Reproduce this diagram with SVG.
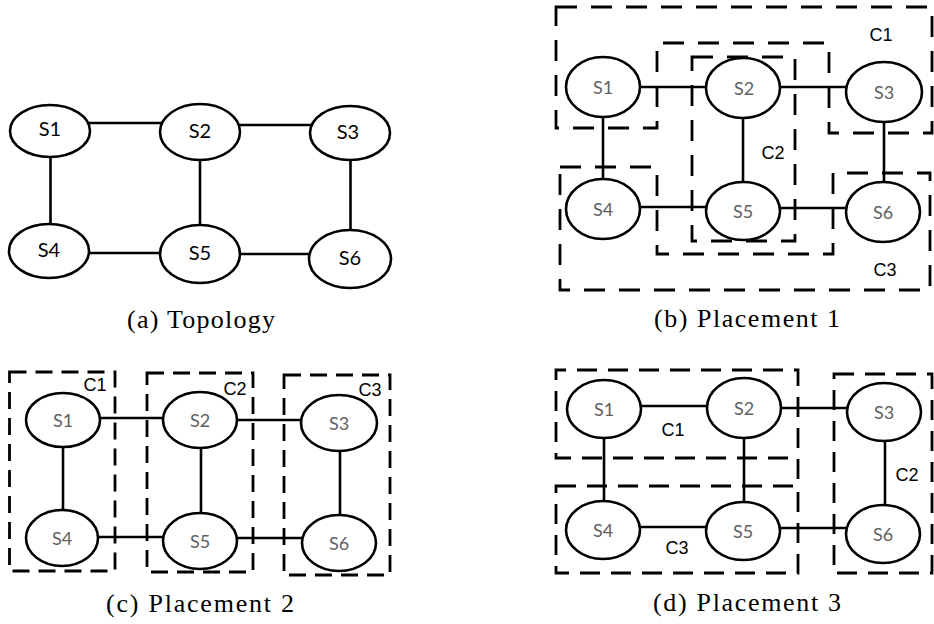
<svg xmlns="http://www.w3.org/2000/svg" width="934" height="624" viewBox="0 0 934 624">
  <style>
    .node ellipse { fill: #fff; stroke: #000; stroke-width: 2.6; }
    .edge { stroke: #000; stroke-width: 2.6; fill: none; }
    .lbl { font-family: Lato, "Open Sans", sans-serif; text-anchor: middle; }
    .lbl-a { font-size: 20px; fill: #000; }
    .lbl-g { font-size: 18px; fill: #606060; }
    .cl { fill: none; stroke: #000; stroke-width: 2.8; }
    .cl-b { stroke-dasharray: 21 14; }
    .cl-c { stroke-dasharray: 17 9; }
    .cl-d { stroke-dasharray: 20 11; }
    .cname { font-family: "Liberation Sans", Arial, sans-serif; font-size: 18px; fill: #000; text-anchor: middle; }
    .cap { font-family: "Liberation Serif", "Times New Roman", serif; font-size: 26px; fill: #000; text-anchor: middle; }
  </style>

  <!-- (a) Topology -->
  <g id="panel-a">
    <g id="a-edges">
      <line class="edge" x1="50" y1="123" x2="200" y2="123"/>
      <line class="edge" x1="200" y1="125" x2="350" y2="125"/>
      <line class="edge" x1="50.5" y1="131" x2="50.5" y2="251"/>
      <line class="edge" x1="200" y1="132" x2="200" y2="254"/>
      <line class="edge" x1="350.5" y1="133" x2="350.5" y2="259"/>
      <line class="edge" x1="49" y1="253" x2="200" y2="253"/>
      <line class="edge" x1="200" y1="254" x2="350" y2="254"/>
    </g>
    <g id="a-S1" class="node"><ellipse cx="50" cy="131" rx="40" ry="26"/><text class="lbl lbl-a" x="50" y="136">S1</text></g>
    <g id="a-S2" class="node"><ellipse cx="200" cy="132" rx="40" ry="28"/><text class="lbl lbl-a" x="200" y="138">S2</text></g>
    <g id="a-S3" class="node"><ellipse cx="350" cy="133" rx="40" ry="27"/><text class="lbl lbl-a" x="348" y="139">S3</text></g>
    <g id="a-S4" class="node"><ellipse cx="49" cy="251" rx="40" ry="27"/><text class="lbl lbl-a" x="49" y="257">S4</text></g>
    <g id="a-S5" class="node"><ellipse cx="200" cy="254" rx="40" ry="29"/><text class="lbl lbl-a" x="200" y="260">S5</text></g>
    <g id="a-S6" class="node"><ellipse cx="350" cy="259" rx="41" ry="29"/><text class="lbl lbl-a" x="350" y="265">S6</text></g>
    <text class="cap" x="201" y="328" textLength="148" lengthAdjust="spacing">(a) Topology</text>
  </g>

  <!-- (b) Placement 1 -->
  <g id="panel-b">
    <g id="b-edges">
      <line class="edge" x1="603" y1="87" x2="743" y2="87"/>
      <line class="edge" x1="743" y1="87" x2="884" y2="87"/>
      <line class="edge" x1="603" y1="87" x2="603" y2="209"/>
      <line class="edge" x1="743" y1="88" x2="743" y2="211"/>
      <line class="edge" x1="884" y1="92" x2="884" y2="212"/>
      <line class="edge" x1="603" y1="207" x2="743" y2="207"/>
      <line class="edge" x1="743" y1="208" x2="883" y2="208"/>
    </g>
    <g id="b-S1" class="node"><ellipse cx="603" cy="87" rx="37" ry="30"/><text class="lbl lbl-g" x="603" y="94">S1</text></g>
    <g id="b-S2" class="node"><ellipse cx="743" cy="88" rx="37" ry="30"/><text class="lbl lbl-g" x="744" y="95">S2</text></g>
    <g id="b-S3" class="node"><ellipse cx="884" cy="92" rx="38" ry="30"/><text class="lbl lbl-g" x="884" y="99">S3</text></g>
    <g id="b-S4" class="node"><ellipse cx="603" cy="209" rx="37" ry="30"/><text class="lbl lbl-g" x="603" y="216">S4</text></g>
    <g id="b-S5" class="node"><ellipse cx="743" cy="211" rx="37" ry="29"/><text class="lbl lbl-g" x="743" y="218">S5</text></g>
    <g id="b-S6" class="node"><ellipse cx="883" cy="212" rx="37" ry="30"/><text class="lbl lbl-g" x="883" y="219">S6</text></g>
    <g id="b-clusters">
      <path class="cl cl-b" d="M556,7 H932 V133 H829 V43 H657 V128 H556 Z"/>
      <rect class="cl cl-b" x="692" y="57" width="103" height="184"/>
      <path class="cl cl-b" d="M560,167 H657 V254 H833 V173 H930 V290 H560 Z"/>
      <text class="cname" x="881" y="41">C1</text>
      <text class="cname" x="773" y="159">C2</text>
      <text class="cname" x="885" y="276">C3</text>
    </g>
    <text class="cap" x="747" y="327" textLength="186" lengthAdjust="spacing">(b) Placement 1</text>
  </g>

  <!-- (c) Placement 2 -->
  <g id="panel-c">
    <g id="c-edges">
      <line class="edge" x1="63" y1="418" x2="200" y2="418"/>
      <line class="edge" x1="200" y1="420" x2="339" y2="420"/>
      <line class="edge" x1="63" y1="420" x2="63" y2="538"/>
      <line class="edge" x1="201" y1="420" x2="201" y2="541"/>
      <line class="edge" x1="340" y1="423" x2="340" y2="543"/>
      <line class="edge" x1="62" y1="537" x2="200" y2="537"/>
      <line class="edge" x1="200" y1="538" x2="339" y2="538"/>
    </g>
    <g id="c-S1" class="node"><ellipse cx="63" cy="420" rx="37" ry="27"/><text class="lbl lbl-g" x="63" y="427">S1</text></g>
    <g id="c-S2" class="node"><ellipse cx="200" cy="420" rx="37" ry="28"/><text class="lbl lbl-g" x="200" y="427">S2</text></g>
    <g id="c-S3" class="node"><ellipse cx="339" cy="423" rx="38" ry="28"/><text class="lbl lbl-g" x="339" y="430">S3</text></g>
    <g id="c-S4" class="node"><ellipse cx="62" cy="538" rx="36" ry="28"/><text class="lbl lbl-g" x="62" y="545">S4</text></g>
    <g id="c-S5" class="node"><ellipse cx="200" cy="541" rx="37" ry="28"/><text class="lbl lbl-g" x="200" y="548">S5</text></g>
    <g id="c-S6" class="node"><ellipse cx="339" cy="543" rx="37" ry="28"/><text class="lbl lbl-g" x="339" y="550">S6</text></g>
    <g id="c-clusters">
      <rect class="cl cl-c" x="9.5" y="372" width="105.5" height="199"/>
      <rect class="cl cl-c" x="147" y="373" width="106" height="199"/>
      <rect class="cl cl-c" x="284" y="375" width="106" height="200"/>
      <text class="cname" x="95" y="391">C1</text>
      <text class="cname" x="235" y="395">C2</text>
      <text class="cname" x="370" y="396">C3</text>
    </g>
    <text class="cap" x="200" y="612" textLength="188" lengthAdjust="spacing">(c) Placement 2</text>
  </g>

  <!-- (d) Placement 3 -->
  <g id="panel-d">
    <g id="d-edges">
      <line class="edge" x1="604" y1="406" x2="744" y2="406"/>
      <line class="edge" x1="744" y1="408" x2="884" y2="408"/>
      <line class="edge" x1="604" y1="409" x2="604" y2="530"/>
      <line class="edge" x1="744" y1="408" x2="744" y2="531"/>
      <line class="edge" x1="885" y1="412" x2="885" y2="534"/>
      <line class="edge" x1="603" y1="527" x2="743" y2="527"/>
      <line class="edge" x1="743" y1="528" x2="883" y2="528"/>
    </g>
    <g id="d-S1" class="node"><ellipse cx="604" cy="409" rx="37" ry="29"/><text class="lbl lbl-g" x="604" y="416">S1</text></g>
    <g id="d-S2" class="node"><ellipse cx="744" cy="408" rx="37" ry="30"/><text class="lbl lbl-g" x="744" y="415">S2</text></g>
    <g id="d-S3" class="node"><ellipse cx="884" cy="412" rx="37" ry="29"/><text class="lbl lbl-g" x="884" y="419">S3</text></g>
    <g id="d-S4" class="node"><ellipse cx="603" cy="530" rx="37" ry="29"/><text class="lbl lbl-g" x="603" y="537">S4</text></g>
    <g id="d-S5" class="node"><ellipse cx="743" cy="531" rx="37" ry="29"/><text class="lbl lbl-g" x="743" y="538">S5</text></g>
    <g id="d-S6" class="node"><ellipse cx="883" cy="534" rx="37" ry="29"/><text class="lbl lbl-g" x="883" y="541">S6</text></g>
    <g id="d-clusters">
      <path class="cl cl-d" d="M788,458 H556 V370 H798 V486"/>
      <rect class="cl cl-d" x="556" y="486" width="242" height="87"/>
      <rect class="cl cl-d" x="834" y="374" width="98" height="199"/>
      <text class="cname" x="673" y="436">C1</text>
      <text class="cname" x="907" y="481">C2</text>
      <text class="cname" x="677" y="554">C3</text>
    </g>
    <text class="cap" x="747" y="611" textLength="188" lengthAdjust="spacing">(d) Placement 3</text>
  </g>
</svg>
